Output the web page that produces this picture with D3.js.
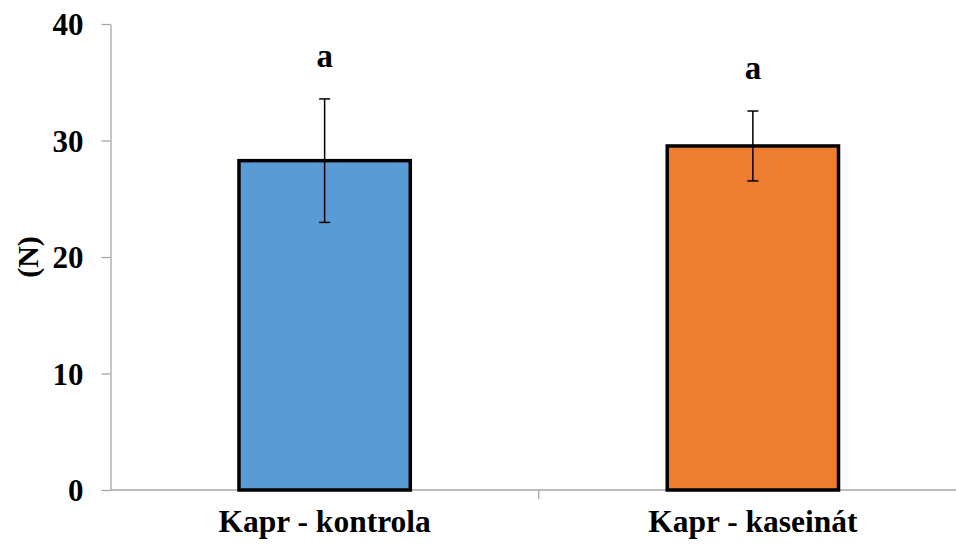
<!DOCTYPE html>
<html>
<head>
<meta charset="utf-8">
<script src="https://cdn.jsdelivr.net/npm/d3@7"></script>
<style>
  body { margin: 0; background: #fff; }
  svg text { font-family: "Liberation Serif", "Times New Roman", serif; font-weight: bold; fill: #000; }
</style>
</head>
<body>
<svg id="chart"></svg>
<script>
// Chart data
const categories = ['Kapr - kontrola', 'Kapr - kaseinát'];
const means = [28.27, 29.53];
const errors = [5.3, 3.0];
const letters = ['a', 'a'];
const colors = ['#5b9bd5', '#ed7d31'];
const yTicks = [0, 10, 20, 30, 40];

const W = 956, H = 545;
const margin = { top: 24, right: -11, bottom: 55, left: 110.5 };
const width = W - margin.left - margin.right;
const height = H - margin.top - margin.bottom;

const svg = d3.select('#chart')
  .attr('width', W)
  .attr('height', H)
  .append('g')
  .attr('transform', `translate(${margin.left}, ${margin.top})`);

const x = d3.scaleBand()
  .domain(categories)
  .range([0, width])
  .paddingInner(0.6)
  .paddingOuter(0.3);

const y = d3.scaleLinear()
  .domain([0, 40])
  .range([height, 0]);

// Y axis
const yAxis = svg.append('g')
  .call(d3.axisLeft(y).tickValues(yTicks).tickSize(9).tickPadding(18).tickSizeOuter(0));
yAxis.select('.domain').attr('stroke', '#a6a6a6').attr('stroke-width', 1.3);
yAxis.selectAll('.tick line').attr('stroke', '#a6a6a6').attr('stroke-width', 1.3);
yAxis.selectAll('.tick text').style('font-size', '31px').attr('dy', '0.34em');

// X axis line with a divider tick between categories
svg.append('line')
  .attr('x1', 0).attr('x2', width)
  .attr('y1', height).attr('y2', height)
  .attr('stroke', '#a6a6a6').attr('stroke-width', 1.3);

const step = x.step();
svg.selectAll('.xdiv')
  .data(categories.slice(1))
  .enter()
  .append('line')
  .attr('class', 'xdiv')
  .attr('x1', d => x(d) - step * x.paddingInner() / 2)
  .attr('x2', d => x(d) - step * x.paddingInner() / 2)
  .attr('y1', height).attr('y2', height + 9)
  .attr('stroke', '#a6a6a6').attr('stroke-width', 1.3);

svg.selectAll('.xlabel')
  .data(categories)
  .enter()
  .append('text')
  .attr('class', 'xlabel')
  .attr('x', d => x(d) + x.bandwidth() / 2)
  .attr('y', height + 42)
  .attr('text-anchor', 'middle')
  .style('font-size', '31.5px')
  .text(d => d);

// Bars
svg.selectAll('.bar')
  .data(categories)
  .enter()
  .append('rect')
  .attr('class', 'bar')
  .attr('x', d => x(d))
  .attr('y', (d, i) => y(means[i]))
  .attr('width', x.bandwidth())
  .attr('height', (d, i) => height - y(means[i]))
  .attr('fill', (d, i) => colors[i])
  .attr('stroke', '#000')
  .attr('stroke-width', 3.5);

// Error bars
const cap = 5.5;
const err = svg.selectAll('.err')
  .data(categories)
  .enter()
  .append('g')
  .attr('class', 'err')
  .attr('transform', d => `translate(${x(d) + x.bandwidth() / 2}, 0)`)
  .attr('stroke', '#000')
  .attr('stroke-width', 1.5);

err.append('line')
  .attr('x1', 0).attr('x2', 0)
  .attr('y1', (d, i) => y(means[i] + errors[i]))
  .attr('y2', (d, i) => y(means[i] - errors[i]));
err.append('line')
  .attr('x1', -cap).attr('x2', cap)
  .attr('y1', (d, i) => y(means[i] + errors[i]))
  .attr('y2', (d, i) => y(means[i] + errors[i]));
err.append('line')
  .attr('x1', -cap).attr('x2', cap)
  .attr('y1', (d, i) => y(means[i] - errors[i]))
  .attr('y2', (d, i) => y(means[i] - errors[i]));

// Significance letters
svg.selectAll('.letter')
  .data(categories)
  .enter()
  .append('text')
  .attr('class', 'letter')
  .attr('x', d => x(d) + x.bandwidth() / 2)
  .attr('y', (d, i) => y(means[i] + errors[i]) - 32)
  .attr('text-anchor', 'middle')
  .style('font-size', '33px')
  .text((d, i) => letters[i]);

// Y axis title
svg.append('text')
  .attr('transform', `translate(${28 - margin.left}, ${y(20)}) rotate(-90)`)
  .attr('text-anchor', 'middle')
  .attr('dy', '0.34em')
  .style('font-size', '30px')
  .text('(N)');
</script>
</body>
</html>
